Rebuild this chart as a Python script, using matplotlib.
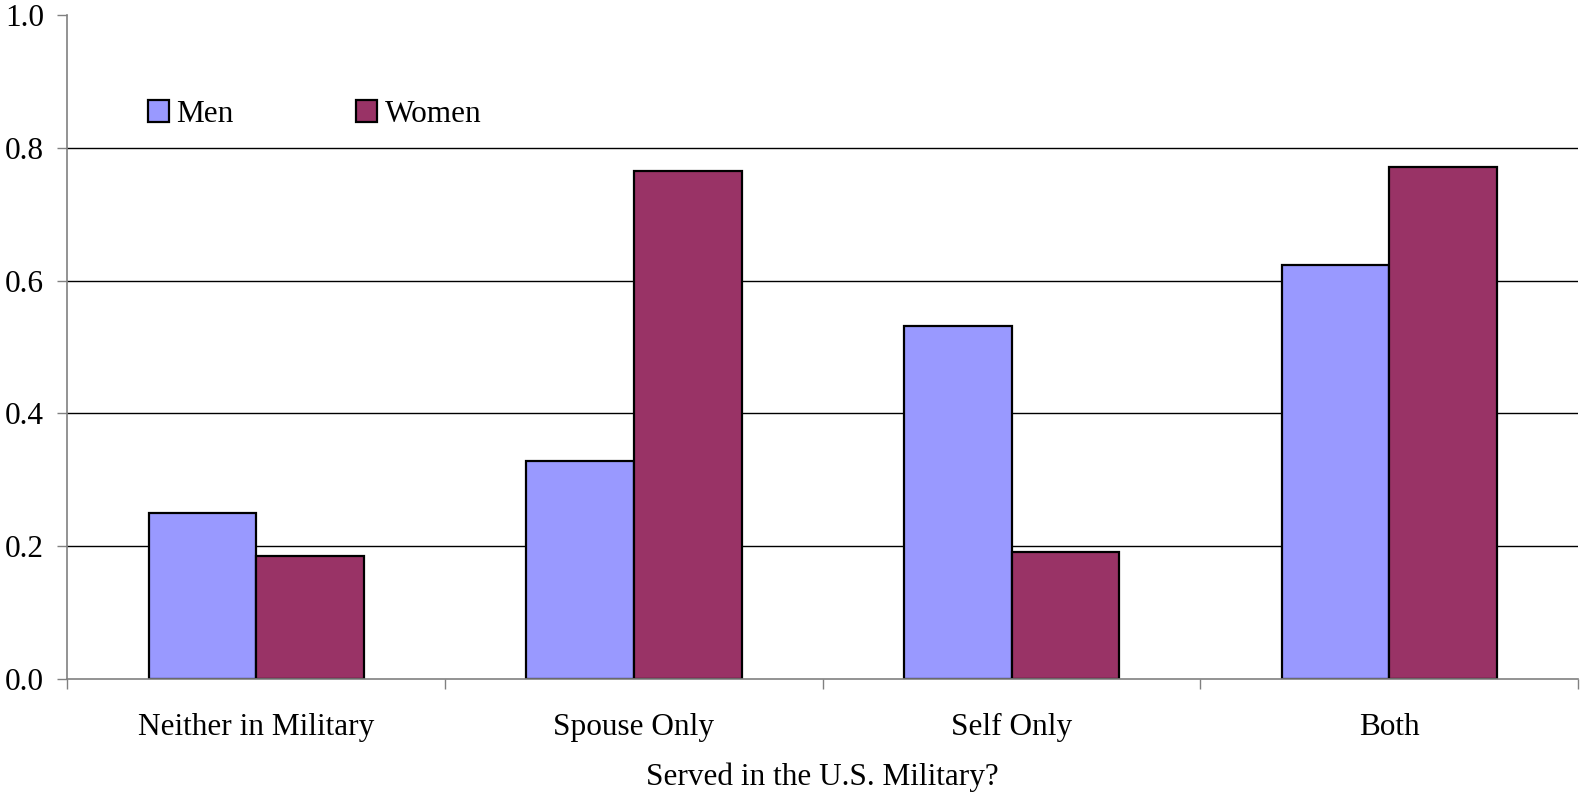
import matplotlib.pyplot as plt
import numpy as np
from matplotlib.patches import Patch

categories = ['Neither in Military', 'Spouse Only', 'Self Only', 'Both']
men = [0.25, 0.329, 0.532, 0.624]
women = [0.186, 0.765, 0.191, 0.771]
yticks = [0.0, 0.2, 0.4, 0.6, 0.8, 1.0]

plt.rcParams['font.family'] = ['Liberation Serif', 'DejaVu Serif']
plt.rcParams['font.size'] = 22.5

fig = plt.figure(figsize=(15.8, 7.94), dpi=100)
ax = fig.add_axes([0.0427, 0.1445, 0.9560, 0.8370])

x = np.arange(len(categories)) + 0.5
w = 0.285
for yv in yticks[1:-1]:
    ax.axhline(yv, color='black', lw=1.0, zorder=0)
ax.bar(x - w / 2, men, w, color='#9999FF', edgecolor='black', lw=1.6, label='Men', zorder=2)
ax.bar(x + w / 2, women, w, color='#993366', edgecolor='black', lw=1.6, label='Women', zorder=2)

ax.set_xlim(0, len(categories))
ax.set_ylim(0, 1.0)
ax.set_yticks(yticks)
ax.set_yticklabels(['%.1f' % v for v in yticks])
ax.set_xticks(x)
ax.set_xticklabels(categories)
ax.set_xticks(np.arange(len(categories) + 1), minor=True)
ax.tick_params(axis='x', which='major', length=0, pad=24)
ax.tick_params(axis='x', which='minor', length=7, color='#808080', width=1)
ax.tick_params(axis='y', length=7, color='#808080', width=1, pad=10)

for s in ['top', 'right']:
    ax.spines[s].set_visible(False)
for s in ['left', 'bottom']:
    ax.spines[s].set_color('#808080')
    ax.spines[s].set_linewidth(1.2)

ax.set_xlabel('Served in the U.S. Military?', labelpad=15)

handles = [Patch(facecolor='#9999FF', edgecolor='black', lw=1.6),
           Patch(facecolor='#993366', edgecolor='black', lw=1.6)]
ax.legend(handles, ['Men', 'Women'], ncol=2, frameon=False,
          loc='center left', bbox_to_anchor=(0.053, 0.850),
          handlelength=0.68, handleheight=0.68, handletextpad=0.25,
          columnspacing=3.9, borderpad=0, borderaxespad=0)

fig.savefig('out.png', dpi=100)
